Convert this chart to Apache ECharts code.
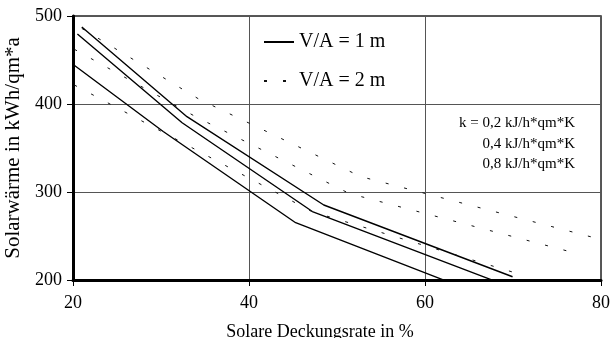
<!DOCTYPE html>
<html>
<head>
<meta charset="utf-8">
<script src="https://cdn.jsdelivr.net/npm/echarts@6/dist/echarts.min.js"></script>
<style>html,body{margin:0;padding:0;background:#fff;}#c{width:612px;height:338px;}</style>
</head>
<body>
<div id="c"></div>
<script>
// X ticks / Y ticks
const xTicks = [20, 40, 60, 80];
const yTicks = [200, 300, 400, 500];

// V/A = 1 m (solid) : [Deckungsrate %, Solarwärme kWh/qm*a]
const va1_k02 = [[21.0, 487.5], [32.95, 385.6], [48.5, 285.2], [69.95, 203.7]];
const va1_k04 = [[20.5, 479.5], [32.4, 378.7], [47.2, 277.8], [67.5, 200.5]];
const va1_k08 = [[20.1, 444.3], [30.25, 368.8], [45.3, 265.1], [62.0, 200.5]];

// V/A = 2 m (dashed)
const va2_k02 = [[21.0, 485.9], [34.3, 405.6], [52.7, 317.5], [79.8, 246.6]];
const va2_k04 = [[20.15, 462.2], [33.9, 385.8], [51.4, 298.3], [77.5, 229.5]];
const va2_k08 = [[20.15, 421.6], [47.15, 277.7], [70.7, 206.8]];

const legendNames = ['V/A = 1 m', 'V/A = 2 m'];
const kLabels = ['k = 0,2 kJ/h*qm*K', '0,4 kJ/h*qm*K', '0,8 kJ/h*qm*K'];

const FONT = '"Liberation Serif", "DejaVu Serif", serif';

function solid(data) {
  return {
    type: 'line', name: legendNames[0], data: data, symbol: 'none',
    lineStyle: { color: '#000', width: 1.4, type: 'solid' },
    itemStyle: { color: '#000' }, animation: false, z: 3
  };
}
function dashed(data) {
  return {
    type: 'line', name: legendNames[1], data: data, symbol: 'none',
    lineStyle: { color: '#111', width: 1, type: [3, 16] },
    itemStyle: { color: '#111' }, animation: false, z: 3
  };
}

const chart = echarts.init(document.getElementById('c'), null, { renderer: 'canvas' });
chart.setOption({
  backgroundColor: '#fff',
  animation: false,
  textStyle: { fontFamily: FONT },
  grid: { left: 73, right: 11, top: 16, bottom: 58, containLabel: false, outerBoundsMode: 'none',
          show: true, borderColor: '#222', borderWidth: 1.5, backgroundColor: 'transparent' },
  title: {
    text: kLabels.join('\n'),
    left: 570, top: 108, textAlign: 'right',
    textStyle: { fontFamily: FONT, fontSize: 15, fontWeight: 'normal', color: '#000', lineHeight: 20.5 }
  },
  legend: {
    data: legendNames, orient: 'vertical', left: 258, top: 27,
    itemWidth: 30, itemHeight: 14, itemGap: 19,
    itemStyle: { opacity: 0 },
    textStyle: { fontFamily: FONT, fontSize: 20, color: '#000' }
  },
  xAxis: {
    type: 'value', min: xTicks[0], max: xTicks[xTicks.length - 1], interval: 20,
    name: 'Solare Deckungsrate in %', nameLocation: 'middle', nameGap: 43,
    nameTextStyle: { fontFamily: FONT, fontSize: 18, color: '#000', padding: [0, 34, 0, 0] },
    axisLine: { show: true, onZero: false, lineStyle: { color: '#000', width: 3 } },
    axisTick: { show: true, length: 6, lineStyle: { color: '#000', width: 1 } },
    axisLabel: { fontFamily: FONT, fontSize: 18, color: '#000', margin: 14 },
    splitLine: { show: true, lineStyle: { color: '#555', width: 1 } }
  },
  yAxis: {
    type: 'value', min: yTicks[0], max: yTicks[yTicks.length - 1], interval: 100,
    name: 'Solarwärme in kWh/qm*a', nameLocation: 'middle', nameGap: 48, nameRotate: 90,
    nameTextStyle: { fontFamily: FONT, fontSize: 21, color: '#000' },
    axisLine: { show: true, onZero: false, lineStyle: { color: '#000', width: 3 } },
    axisTick: { show: true, length: 6, lineStyle: { color: '#000', width: 1 } },
    axisLabel: { fontFamily: FONT, fontSize: 18, color: '#000', margin: 11 },
    splitLine: { show: true, lineStyle: { color: '#555', width: 1 } }
  },
  series: [
    solid(va1_k02), solid(va1_k04), solid(va1_k08),
    dashed(va2_k02), dashed(va2_k04), dashed(va2_k08)
  ]
});
</script>
</body>
</html>
